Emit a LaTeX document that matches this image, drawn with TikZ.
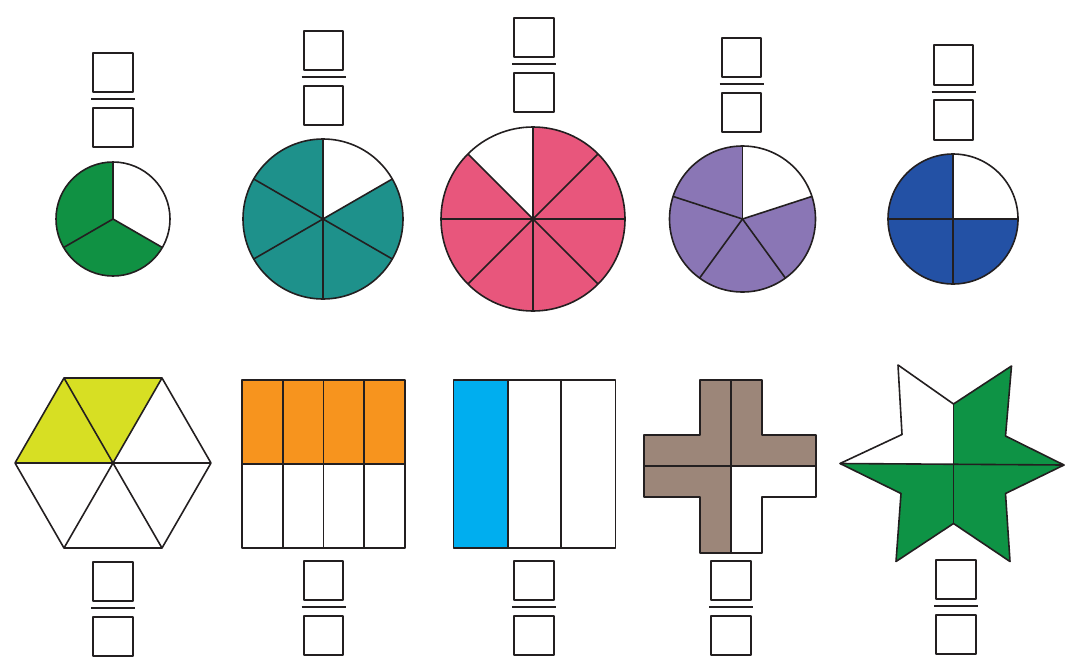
\documentclass[tikz,border=0pt]{standalone}
\definecolor{cgreen}{RGB}{16,145,67}
\definecolor{cteal}{RGB}{30,145,139}
\definecolor{cpink}{RGB}{232,86,124}
\definecolor{cpurple}{RGB}{138,118,181}
\definecolor{cblue}{RGB}{35,81,165}
\definecolor{cyellow}{RGB}{215,223,35}
\definecolor{corange}{RGB}{247,148,30}
\definecolor{ccyan}{RGB}{0,174,239}
\definecolor{cbrown}{RGB}{156,134,121}
\definecolor{cstar}{RGB}{14,147,69}
\definecolor{ink}{RGB}{35,31,32}
\newcommand\fracpair[3]{%
  \node[fbox] (#1t) at (#2,#3+20.5) {};
  \node[fbox] (#1b) at (#2,#3+75.5) {};
  \coordinate (#1l) at (#2-22,#3+47);
  \coordinate (#1r) at (#2+22,#3+47);
  \draw[fbar] (#1l) -- (#1r);}
\newcommand\piechart[6]{% name, cx, cy, r, color, white start:end ; lines given separately
  \coordinate (#1) at (#2,#3);
  \fill[#5] (#1) circle (#4);
  \fill[white] (#1) -- ++(#6) -- cycle;}
\begin{document}
\begin{tikzpicture}[x=1pt,y=-1pt,line join=round]
\tikzset{
  ol/.style={draw=ink,line width=1.6pt},
  fbox/.style={draw=ink,line width=1.6pt,minimum size=39.5pt,inner sep=0pt},
  fbar/.style={draw=ink,line width=2pt}
}
\useasboundingbox (0,0) rectangle (1065,664);

% ---------- fraction boxes ----------
\fracpair{fa}{113}{52}
\fracpair{fb}{323.5}{30}
\fracpair{fc}{534}{17}
\fracpair{fd}{741.5}{37}
\fracpair{fe}{953.5}{44.5}
\fracpair{ff}{113}{561}
\fracpair{fg}{323.5}{560}
\fracpair{fh}{534}{560}
\fracpair{fi}{731}{560}
\fracpair{fj}{956}{559}

% ---------- circle 1 : thirds ----------
\coordinate (c1) at (113,219);
\fill[cgreen] (c1) circle (57);
\fill[white] (c1) -- ++(-90:57) arc (-90:30:57) -- cycle;
\foreach \a in {-90,30,150} \draw[ol] (c1) -- ++(\a:57);
\draw[ol] (c1) circle (57);

% ---------- circle 2 : sixths ----------
\coordinate (c2) at (323,219);
\fill[cteal] (c2) circle (80);
\fill[white] (c2) -- ++(-90:80) arc (-90:-30:80) -- cycle;
\foreach \a in {-90,-30,30,90,150,210} \draw[ol] (c2) -- ++(\a:80);
\draw[ol] (c2) circle (80);

% ---------- circle 3 : eighths ----------
\coordinate (c3) at (533,219);
\fill[cpink] (c3) circle (92);
\fill[white] (c3) -- ++(-135:92) arc (-135:-90:92) -- cycle;
\foreach \a in {0,45,...,315} \draw[ol] (c3) -- ++(\a:92);
\draw[ol] (c3) circle (92);

% ---------- circle 4 : fifths ----------
\coordinate (c4) at (742.5,219);
\fill[cpurple] (c4) circle (73);
\fill[white] (c4) -- ++(-90:73) arc (-90:-18:73) -- cycle;
\foreach \a in {-90,-18,54,126,198} \draw[ol] (c4) -- ++(\a:73);
\draw[ol] (c4) circle (73);

% ---------- circle 5 : quarters ----------
\coordinate (c5) at (953,219);
\fill[cblue] (c5) circle (65);
\fill[white] (c5) -- ++(-90:65) arc (-90:0:65) -- cycle;
\foreach \a in {0,90,180,270} \draw[ol] (c5) -- ++(\a:65);
\draw[ol] (c5) circle (65);

% ---------- hexagon ----------
\coordinate (hc) at (113,463);
\coordinate (h1) at (15,463);
\coordinate (h2) at (64,378);
\coordinate (h3) at (162,378);
\coordinate (h4) at (211,463);
\coordinate (h5) at (162,548);
\coordinate (h6) at (64,548);
\fill[cyellow] (hc) -- (h1) -- (h2) -- (h3) -- cycle;
\draw[ol] (h1) -- (h2) -- (h3) -- (h4) -- (h5) -- (h6) -- cycle;
\foreach \p in {h1,h2,h3,h4,h5,h6} \draw[ol] (hc) -- (\p);

% ---------- rectangle in eighths ----------
\fill[corange] (242,380) rectangle (405,464);
\draw[ol] (242,380) rectangle (405,548);
\draw[ol] (242,464) -- (405,464);
\foreach \x in {282.75,323.5,364.25} \draw[ol] (\x,380) -- (\x,548);

% ---------- rectangle in thirds ----------
\fill[ccyan] (453.5,380) rectangle (508,548);
\draw[ol] (453.5,380) rectangle (615.5,548);
\foreach \x in {508,561} \draw[ol] (\x,380) -- (\x,548);

% ---------- cross ----------
\coordinate (xc) at (731,466);
\fill[cbrown] (700,380) -- (762,380) -- (762,435) -- (816,435) -- (816,497) -- (762,497)
  -- (762,553) -- (700,553) -- (700,497) -- (644,497) -- (644,435) -- (700,435) -- cycle;
\fill[white] (xc) -- (816,466) -- (816,497) -- (762,497) -- (762,553) -- (731,553) -- cycle;
\draw[ol] (700,380) -- (762,380) -- (762,435) -- (816,435) -- (816,497) -- (762,497)
  -- (762,553) -- (700,553) -- (700,497) -- (644,497) -- (644,435) -- (700,435) -- cycle;
\draw[ol] (731,380) -- (731,553);
\draw[ol] (644,466) -- (816,466);

% ---------- star ----------
\coordinate (sc) at (953.5,464);
\coordinate (s1) at (840,463.5);   % left point
\coordinate (s2) at (902,434.5);   % inner
\coordinate (s3) at (898,365);     % top-left point
\coordinate (s4) at (953.5,404);   % inner top
\coordinate (s5) at (1011.5,366);  % top-right point
\coordinate (s6) at (1005.5,436);  % inner
\coordinate (s7) at (1064,465);    % right point
\coordinate (s8) at (1005.5,493.5);% inner
\coordinate (s9) at (1010,561.5);  % bottom-right point
\coordinate (s10) at (953.5,523.5);% inner bottom
\coordinate (s11) at (896,561.5);  % bottom-left point
\coordinate (s12) at (901,493.5);  % inner
\fill[cstar] (s1) -- (s2) -- (s3) -- (s4) -- (s5) -- (s6) -- (s7) -- (s8) -- (s9)
  -- (s10) -- (s11) -- (s12) -- cycle;
\fill[white] (sc) -- (s1) -- (s2) -- (s3) -- (s4) -- cycle;
\draw[ol] (s1) -- (s2) -- (s3) -- (s4) -- (s5) -- (s6) -- (s7) -- (s8) -- (s9)
  -- (s10) -- (s11) -- (s12) -- cycle;
\draw[ol] (s4) -- (s10);
\draw[ol] (s1) -- (s7);
\end{tikzpicture}
\end{document}
